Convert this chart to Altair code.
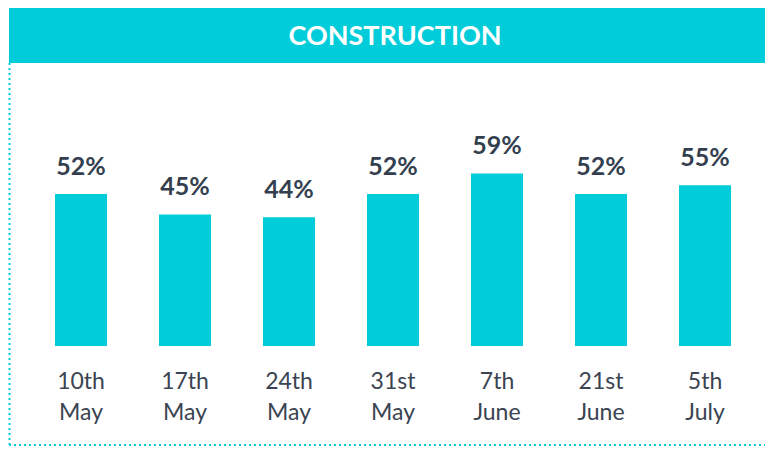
import altair as alt
import pandas as pd

categories = ["10th\nMay", "17th\nMay", "24th\nMay", "31st\nMay", "7th\nJune", "21st\nJune", "5th\nJuly"]
values = [52, 45, 44, 52, 59, 52, 55]
title_text = "CONSTRUCTION"

TEAL = "#00CCDA"
DARK = "#333F4F"

df = pd.DataFrame({"cat": categories, "val": values,
                   "lbl": [f"{v}%" for v in values]})

xenc = alt.X("cat:N", sort=categories, axis=None,
             scale=alt.Scale(range=[21, 749], paddingInner=0.5, paddingOuter=0.25))
yenc = alt.Y("val:Q", axis=None, scale=alt.Scale(domain=[0, 115.6], nice=False, zero=True))

base = alt.Chart(df)

bars = base.mark_bar(color=TEAL).encode(x=xenc, y=yenc)

vlabels = base.mark_text(font="Lato", fontWeight="bold", fontSize=25, color=DARK,
                         baseline="alphabetic", dy=-19).encode(x=xenc, y=yenc, text="lbl:N")

clabels = base.mark_text(font="Lato", fontSize=23, color="#3A4452", baseline="alphabetic",
                         lineBreak="\n", lineHeight=31).encode(
    x=xenc, y=alt.value(381), text="cat:N")

deco = alt.Chart(pd.DataFrame({"t": [title_text]}))

band = deco.mark_rect(color=TEAL).encode(
    x=alt.value(1), x2=alt.value(757), y=alt.value(0), y2=alt.value(55))

title = deco.mark_text(font="Lato", fontWeight="bold", fontSize=27, color="white",
                       baseline="alphabetic", align="center").encode(
    x=alt.value(387), y=alt.value(37), text="t:N")

left_border = deco.mark_rule(color=TEAL, strokeWidth=2, strokeDash=[2, 3]).encode(
    x=alt.value(1.5), y=alt.value(55), y2=alt.value(437))
bottom_border = deco.mark_rule(color=TEAL, strokeWidth=2, strokeDash=[2, 3]).encode(
    x=alt.value(1), x2=alt.value(757), y=alt.value(437))

chart = alt.layer(band, title, left_border, bottom_border, bars, vlabels, clabels).properties(
    width=757, height=338,
    autosize=alt.AutoSizeParams(type="none"),
    padding={"left": 0, "top": 0, "right": 0, "bottom": 101},
).configure_view(stroke=None)

chart.save("out.html", embed_options={"renderer": "svg", "actions": False})
